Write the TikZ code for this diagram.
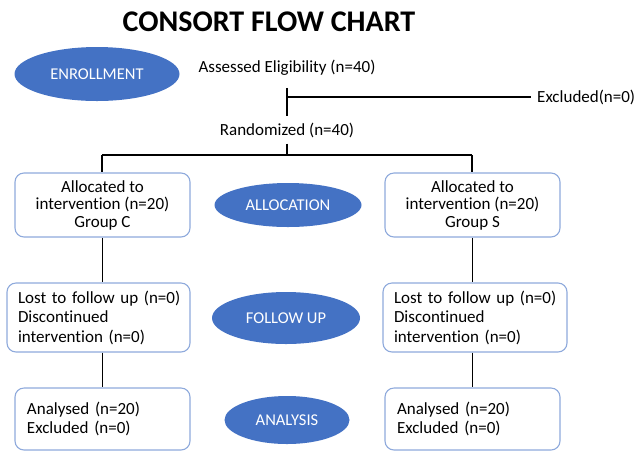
\documentclass[tikz,border=0pt]{standalone}
\usepackage{fontspec}
\setmainfont{Carlito}[Ligatures={NoCommon}]
\usetikzlibrary{shapes.geometric}
\definecolor{ellblue}{RGB}{68,114,196}
\definecolor{boxblue}{RGB}{143,170,220}
\begin{document}
\begin{tikzpicture}[x=1pt,y=-1pt,
  phase/.style={ellipse, fill=ellblue, text=white, inner sep=0pt, font=\fontsize{16.5}{18}\selectfont},
  txt/.style={font=\fontsize{17}{20}\selectfont, inner sep=0pt},
  boxc/.style={draw=boxblue, line width=1.1pt, rounded corners=9pt, fill=white,
    font=\fontsize{17}{17.5}\selectfont, align=center, minimum width=175pt, minimum height=64pt, inner sep=0pt},
  boxl/.style={draw=boxblue, line width=1.1pt, rounded corners=9pt, fill=white,
    font=\fontsize{17}{19.5}\selectfont, align=left, inner ysep=0pt},
  conn/.style={line width=1.5pt, black}]
\useasboundingbox (0,0) rectangle (634,451);
\node[font=\fontsize{30}{34}\selectfont\bfseries, inner sep=0pt] (title) at (269,22) {CONSORT FLOW CHART};
\node[phase, minimum width=165pt, minimum height=54pt] (enroll) at (97,74) {ENROLLMENT};
\node[txt] (assess) at (287,68) {Assessed Eligibility (n=40)};
\node[txt, anchor=west] (excl) at (537,97) {Excluded(n=0)};
\node[txt] (rand) at (287,130) {Randomized (n=40)};
\coordinate (j1) at (287,97);
\coordinate (split) at (287,155);
\coordinate (sl) at (102,155);
\coordinate (sr) at (472,155);
% allocation
\node[boxc] (allocL) at (102.5,205) {Allocated to\\intervention (n=20)\\Group C};
\node[phase, minimum width=147pt, minimum height=44pt] (allocE) at (288,205) {ALLOCATION};
\node[boxc] (allocR) at (472.5,205) {Allocated to\\intervention (n=20)\\Group S};
% follow up
\node[boxl, text width=167pt, inner xsep=8pt, minimum height=69pt] (fuL) at (98.5,317.5) {\hspace*{3pt}Lost to follow up (n=0)\\\hspace*{3pt}Discontinued\\\hspace*{3pt}intervention (n=0)};
\node[phase, minimum width=148pt, minimum height=52pt] (fuE) at (286,318) {FOLLOW UP};
\node[boxl, text width=168pt, inner xsep=8pt, minimum height=69pt] (fuR) at (475,317.5) {\hspace*{3pt}Lost to follow up (n=0)\\\hspace*{3pt}Discontinued\\\hspace*{3pt}intervention (n=0)};
% analysis
\node[boxl, text width=151pt, inner xsep=12pt, minimum height=62pt] (anL) at (102.5,419) {Analysed (n=20)\\Excluded (n=0)};
\node[phase, minimum width=125pt, minimum height=48pt] (anE) at (287,420) {ANALYSIS};
\node[boxl, text width=151pt, inner xsep=12pt, minimum height=62pt] (anR) at (472.5,419) {Analysed (n=20)\\Excluded (n=0)};
% connectors
\draw[conn] ([yshift=-12pt]assess.south) -- ([yshift=6pt]rand.north);
\draw[conn] (j1) -- ([xshift=-6pt]excl.west);
\draw[conn] ([yshift=-6pt]rand.south) -- (split);
\draw[conn] (sl) -- (sr);
\draw[conn] (sl) -- (sl |- allocL.north);
\draw[conn] (sr) -- (sr |- allocR.north);
\draw[conn] (allocL.south) -- (allocL.south |- fuL.north);
\draw[conn] (allocR.south) -- (allocR.south |- fuR.north);
\draw[conn] (allocL.south |- fuL.south) -- (allocL.south |- anL.north);
\draw[conn] (allocR.south |- fuR.south) -- (allocR.south |- anR.north);
\end{tikzpicture}
\end{document}
